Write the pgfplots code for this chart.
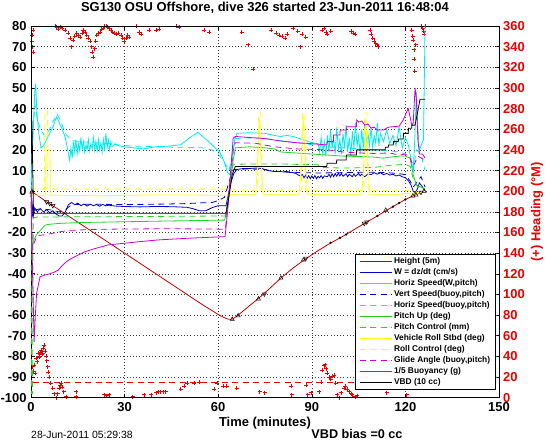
\documentclass[border=0pt]{standalone}
\usepackage{pgfplots}
\pgfplotsset{compat=1.18}
\usepackage{fontspec}
\setmainfont{Liberation Sans}
\definecolor{hred}{rgb}{0.78,0,0}
\definecolor{mblue}{rgb}{0,0,0.78}
\definecolor{mcyan}{rgb}{0,0.92,0.92}
\definecolor{mgreen}{rgb}{0.15,0.82,0.15}
\definecolor{myellow}{rgb}{1,1,0.1}
\definecolor{mmag}{rgb}{0.8,0,0.8}
\definecolor{hdg}{rgb}{0.92,0,0}
\pgfplotsset{every axis plot/.append style={line width=0.8pt}}
\begin{document}
\begin{tikzpicture}
% ---------- right axis: heading ----------
\begin{axis}[
  at={(31bp,44.3bp)}, anchor=south west,
  scale only axis, width=468bp, height=371.7bp,
  xmin=0, xmax=150, ymin=0, ymax=360,
  axis x line=none, axis y line*=right,
  ytick={0,20,...,360},
  tick align=inside, major tick length=4bp,
  y axis line style={black, line width=0.6pt},
  ytick style={black, line width=0.6pt},
  /pgf/number format/assume math mode=true,
  yticklabel style={font=\fontsize{13}{13}\selectfont\bfseries, text=hdg, inner xsep=0pt, xshift=4bp},
  ylabel={(+) Heading (°M)},
  ylabel style={at={(axis description cs:1.0812,0.5)}, anchor=center, inner sep=0pt, font=\fontsize{13}{13}\selectfont\bfseries, text=hdg},
]
\addplot[only marks, mark=+, mark size=2bp, hdg, line width=0.6pt] coordinates {
(0.2,345)(0.4,351)(0.5,340)(0.6,335)(0.8,356)(7.8,360)(8.2,359)(8.8,357)(9.3,359)(10,358)(11,356)(12,353)(12.5,348)(13,340)(13.5,346)(14,350)(14.6,353)(15.2,351)(15.7,349)(16.3,353)(16.8,356)(17.3,354)(17.8,351)(18.4,348)(18.9,345)(19.4,340)(19.7,335)(20,330)(20.4,338)(20.7,345)(21,351)(21.5,353)(22.1,354)(22.6,357)(23.1,358)(23.6,360)(24.1,360)(24.6,359)(25.2,358)(25.7,356)(26.2,354)(26.8,353)(27.3,352)(28,353)(28.9,351)(29.4,348)(29.9,345)(30.4,348)(31,351)(31.5,349)(33.7,360)(34.7,354)(35.2,352)(37.9,356)(40,356)(41,357)(46.5,360)(47.5,359)(55.5,356)(57.1,354)(67.5,354)(69.7,342)(71.3,318)(77,356)(78.5,353)(79.5,351)(80.5,350)(81.5,348)(82,352)(84,358)(85.5,355)(86.2,340)(87,352)(88,349)(93.4,356)(94,358)(94.5,354)(95,352)(96,355)(102.6,355)(103.2,353)(104,352)(108.6,356)(109,352)(109.5,348)(110,345)(110.5,343)(111,342)(111.3,340)(122,356)(122.3,350)(122.5,346)(122.7,337)(122.9,328)(123,316)(123.3,342)(125,360)(125.5,358)(125.8,355)(126,352)(126.3,360)
(0.5,30)(0.8,26)(1.1,31.6)(1.3,23.6)(1.6,38)(1.9,35)(2.2,43)(2.5,39)(2.7,40)(3,44)(3.2,46)(3.5,42)(3.7,43)(4,48)(4.2,51)(4.5,45)(4.8,40)(5,36)(5.3,30)(5.5,25)(5.8,20)(6.3,14)(6.9,9)(7.4,4)(8,0)(8.5,4)(9,9)(9.3,12)(9.6,14)(10,10)(10.5,6)(11.2,1)(14.4,6)(14.5,1)(23.5,3)(24.2,2)(25,3)(32.6,1)(36.3,3)(38.4,3)(40,5)(40.8,6)(41.6,6)(42.4,6)(43.2,6)(48,8)(49,11)(50.1,14)(52.2,14)(53.8,15)(58.6,8)(59.7,14)(61.6,11)(62.7,11)(65.9,9)(73.3,6)(74.9,5)(83.4,11)(83.5,3)(88.1,12)(88.7,3)(89.7,5)(92.4,6)(93,15)(93.4,27)(93.9,31)(94.3,32)(94.7,28)(95,24)(95.5,20)(96,18)(96.5,21)(97.1,22)(97.6,14)(98.2,3)(98.7,0)(99.5,5)(100.3,9)(100.8,11)(101.4,8)(101.9,6)(102.5,4)(103,3)(104,1)(104.5,2)(114,5)(120.4,3)
};
\addplot[hdg, dash pattern=on 6bp off 4.5bp] coordinates {(0.6,14.6)(126.3,14.6)};
\end{axis}
% ---------- left axis ----------
\begin{axis}[
  at={(31bp,44.3bp)}, anchor=south west,
  scale only axis, width=468bp, height=371.7bp,
  xmin=0, xmax=150, ymin=-100, ymax=80,
  xtick={0,30,...,150}, ytick={-100,-90,...,80},
  xtick pos=both, ytick pos=left,
  tick align=inside, major tick length=4bp,
  axis line style={black, line width=0.6pt},
  tick style={black, line width=0.6pt},
  grid=major,
  major grid style={black!75, dash pattern=on 0.6pt off 2.6pt, line width=0.5pt},
  /pgf/number format/assume math mode=true,
  tick label style={font=\fontsize{13}{13}\selectfont\bfseries},
  yticklabel style={inner xsep=0pt, xshift=-4.3bp},
  xticklabel style={yshift=-1bp},
  title={SG130 OSU Offshore, dive 326 started 23-Jun-2011 16:48:04},
  title style={at={(axis description cs:0.5,1)}, anchor=base, yshift=8.5bp, inner sep=0pt, font=\fontsize{13}{13}\selectfont\bfseries},
  xlabel={Time (minutes)},
  xlabel style={at={(axis description cs:0.5,0)}, anchor=base, yshift=-29.3bp, inner sep=0pt, font=\fontsize{13}{13}\selectfont\bfseries},
  legend cell align=left,
  legend image code/.code={\draw[#1] (0bp,0bp) -- (32bp,0bp);},
  legend style={at={(0.9936,0.3866)}, anchor=north east, draw=black, line width=0.8pt, fill=white,
     font=\fontsize{8.4}{9}\selectfont\bfseries, row sep=0.9bp, inner xsep=3.5bp, inner ysep=2bp,
     nodes={inner ysep=0.9bp, text height=6.4bp, text depth=1.9bp}},
]
% Height
\addplot[hred] coordinates {
(0,0)(1,-1)(3,-3)(5,-5.2)(8,-8)(12,-12)(16,-16)(20,-20)(25,-25)(30,-30)(35,-35)(40,-40)(45,-45)(50,-50)(55,-55)(58,-57.8)(60,-59.7)(62,-61.3)(63.3,-62)(64.5,-62)(66,-60.5)(68,-58)(70,-55.5)(73,-51.8)(76,-47.8)(80,-42.2)(84,-37.2)(88,-32.8)(92,-28.8)(95,-26)(100,-21.8)(104,-18.2)(107.5,-15)(111,-12)(114,-9.2)(117,-6.6)(120,-4)(122.4,-2.3)(124,-1.3)(126,0)
};
\addlegendentry{Height (5m)}
% W
\addplot[mblue] coordinates {
(0,0)(0.3,-5)(0.7,-12.5)(1.2,-8)(2,-10)(3,-8.5)(4,-10)(5,-9)(6,-10.5)(7,-9.5)(8,-11)(9,-12)(10,-12)(11,-10)(12,-6.5)(13,-5.5)(14,-6.5)(15,-5.8)(16,-7)(17,-6.2)(18,-7.2)(19,-6.3)(20,-7)(21,-6.5)(22,-7.3)(23,-6.4)(24,-7.1)(25,-6.8)(27,-7.2)(30,-7.4)(35,-7.6)(40,-7.4)(45,-7.5)(50,-7.8)(52,-8.5)(54,-9.5)(56,-9.5)(58,-8)(60,-7)(62.5,-7)(63.2,-2)(64,4)(65,8.5)(66,10.5)(68,11)(70,11)(72,11.2)(74,11)(76,10)(78,9.5)(80,9.5)(82,9.2)(84,9)(85,8.5)(86,7.5)(87,8)(87.5,6.5)(88,7.8)(88.5,6.2)(89,7.5)(89.5,6)(90,7.4)(90.5,6.2)(91,7.6)(91.5,6)(92,7.2)(92.5,6.4)(93,7.6)(93.5,6.2)(94,7.4)(95,7)(95.5,8.2)(96,6.8)(96.5,8.4)(97,7)(97.5,8.6)(98,7.2)(98.5,8.8)(99,7.4)(99.5,8.6)(100,7.2)(101,8.4)(101.5,7)(102,8.2)(103,7)(103.5,8.4)(104,7.2)(105,8.6)(105.5,7.4)(106,8.2)(107,7)(108,8.4)(109,8)(110,9)(111,8.2)(112,9)(113,8)(114,8.6)(115,7.8)(116,8.2)(117,7.4)(118,7.8)(119,7)(120,6.5)(121,5)(121.8,3)(122.5,0)(123,-1)(123.8,1)(124.5,4)(125.5,2)(126.3,0)
};
\addlegendentry{W = dz/dt (cm/s)}
% Horiz speed W,pitch
\addplot[mcyan] coordinates {
(0,0)(0.6,25)(1.2,48)(1.5,52)(1.9,38)(2.5,28)(3.2,21)(4,22)(5,25)(6,28)(7,31)(8.2,36)(9,33.5)(10,30)(11,26)(12,18)(12.4,15)(12.8,21)(13.2,16)(13.6,24)(14,19)(14.4,25)(14.8,18)(15.2,23)(15.6,19.5)(16,26)(16.4,20)(16.8,24)(17.2,19)(17.6,22.5)(18,20)(18.4,25)(18.8,19.5)(19.2,23)(19.6,20.5)(20,26)(20.4,20)(20.8,24)(21.2,19.5)(21.6,25)(22,20)(22.4,23.5)(22.8,19)(23.2,25)(23.6,20.5)(24,28)(24.4,21)(24.8,25)(25.2,20)(25.6,24)(26,21.5)(27,23)(28,22)(30,21.5)(33,21)(36,20.5)(40,21.5)(44,21.8)(48,22.5)(51,26)(53.5,28.5)(55,26.5)(57,24)(59,21)(60.5,19)(62,14)(63,9)(63.8,8)(64.5,15)(65.3,25)(66,28)(70,28.3)(75,28)(78,27)(80,26.5)(82,27)(84,26.5)(86,25.5)(88,24.5)(90,23.5)(92,23)(92.5,19)(93,26)(93.5,18)(94,24)(94.5,17)(95,27)(95.5,19)(96,30)(96.5,21)(97,26)(97.5,18)(98,31)(98.5,20)(99,25)(99.5,18)(100,28)(100.5,21)(101,32)(101.5,19)(102,26)(102.5,17)(103,29)(103.5,21)(104,33)(104.5,22)(105,27)(105.5,18)(106,30)(106.5,21)(107,34)(107.5,24)(108,28)(108.5,22)(109,31)(109.5,21)(110,27)(110.5,23)(111,33)(111.5,22)(112,28)(113,24)(114,30)(115,23)(116,27)(117,22)(118,31)(119,21)(120,26)(121,22)(122,14)(122.5,10)(123,25)(123.5,48)(124,30)(124.5,20)(125,22)(125.8,25)(126.3,80)
};
\addlegendentry{Horiz Speed(W,pitch)}
% Vert speed buoy
\addplot[mblue, dash pattern=on 6bp off 4.5bp] coordinates {
(0,0)(0.4,-12)(0.8,-10)(1.5,-9)(3,-8.5)(6,-9)(9,-10)(11,-9)(13,-6.5)(20,-6.3)(30,-6.5)(40,-6.3)(50,-6)(55,-5.6)(58,-5.5)(60,-4.5)(62,-3)(63,2)(64,7)(65,10.5)(70,10.8)(75,10.5)(78,9.5)(82,9.5)(86,9)(92,8.8)(100,9)(108,9.2)(114,9)(118,8.5)(120,8)(121.5,5)(122.5,2)(123.5,4)(125,7)(126.3,2)
};
\addlegendentry{Vert Speed(buoy,pitch)}
% Horiz speed buoy
\addplot[mcyan, dash pattern=on 6bp off 4.5bp] coordinates {
(0,0)(0.6,30)(1.3,42)(2,35)(3,30)(4.5,26.5)(6,30)(7.5,35)(8.4,37.5)(9.5,34)(11,28)(13,24.5)(16,24)(20,23.5)(25,23)(30,22)(40,21.5)(50,21.2)(55,21)(58,20)(60,18)(62,14)(63.5,10)(64.5,18)(65.5,25.5)(70,25.8)(75,25.5)(80,24.5)(85,23.5)(90,22.5)(95,21.5)(100,21)(105,20.5)(110,20)(115,19.5)(118,19)(120,18)(121.5,16)(122.5,10)(123.5,20)(125,18)(126.3,10)
};
\addlegendentry{Horiz Speed(buoy,pitch)}
% Pitch up
\addplot[mgreen] coordinates {
(0,0)(0.3,-28)(0.8,-24)(1.8,-21)(3,-19)(4.5,-16.4)(6,-16)(9,-15.6)(15,-15.2)(30,-14.8)(45,-14.4)(62,-14)(62.8,-10)(63.8,2)(64.8,15)(65.5,21)(70,21.5)(75,21)(78,20.5)(80,19)(85,18.5)(90,18)(95,17.5)(100,17)(105,16.8)(110,16.5)(113,16)(115,16.5)(118,17)(120,17)(121.5,16)(122.5,8)(123.5,3)(125,2)(126.3,1)
};
\addlegendentry{Pitch Up (deg)}
% Pitch control
\addplot[mgreen, dash pattern=on 6bp off 4.5bp] coordinates {
(0,0)(0.2,-98)(0.5,-98)(0.7,-13)(2,-12.5)(30,-12.3)(62.3,-12)(63.5,0)(64.8,13)(70,13.2)(80,13.2)(85,13)(92,12.8)(93,11.5)(100,11.2)(110,11.5)(115,12.5)(120,13)(121.5,12)(122.5,6)(124,2)(126.3,1)
};
\addlegendentry{Pitch Control (mm)}
% Vehicle roll
\addplot[myellow] coordinates {
(0,0)(0.5,-2)(4.7,-2)(4.8,20)(6.1,20)(6.2,-2)(10,-2)(20,-2.2)(30,-2)(40,-1.8)(50,-1.8)(60,-2)(62.5,-2)(65,-1.5)(72,-1.5)(72.6,12)(73.2,35)(73.8,12)(74.4,-1.5)(86,-1.5)(86.6,12)(87.3,36)(88,12)(88.6,-1.5)(106,-1.5)(106.6,12)(107.3,35)(108,12)(108.6,-1.5)(118,-1.5)(121,-1)(122.5,-2)(124,-1)(126.3,0)
};
\addlegendentry{Vehicle Roll Stbd (deg)}
% Roll control
\addplot[myellow, dash pattern=on 6bp off 4.5bp] coordinates {
(0,0)(0.5,1)(4.3,1)(4.4,39)(5.3,39)(5.4,1)(30,1)(62.5,1)(65,0.5)(72.5,0.5)(72.9,38)(73.6,38)(74,0.5)(86.6,0.5)(87,38)(87.7,38)(88.1,0.5)(106.6,0.5)(107,38)(107.7,38)(108.1,0.5)(121,0.5)(123,-1)(126.3,0)
};
\addlegendentry{Roll Control (deg)}
% Glide angle
\addplot[mmag, dash pattern=on 6bp off 4.5bp] coordinates {
(0,0)(0.4,-28)(1,-25)(2,-21.5)(5,-21)(8,-20)(12,-19)(20,-18.5)(30,-18.3)(45,-18.2)(58,-18.3)(62.3,-18.5)(63.5,0)(64.8,20)(65.5,23.5)(72,23.2)(78,21.5)(85,20.5)(95,20)(100,19)(105,18.5)(110,18.3)(115,18.5)(118,17.5)(120,18)(121.5,16)(122.5,12)(124,17)(126.3,15)
};
\addlegendentry{Glide Angle (buoy,pitch)}
% Buoyancy
\addplot[mmag] coordinates {
(0,0)(0.5,-40)(1,-73)(1.4,-60)(1.8,-49.4)(2.9,-41.4)(4.5,-40.6)(6,-40)(7,-39.5)(8.8,-38.2)(10,-36)(11.5,-34)(13,-32.5)(15,-31)(17.3,-29.3)(20,-28)(24.8,-26)(30,-25.2)(35,-24.4)(40.8,-23.6)(50,-22.8)(62.2,-22)(63,-10)(64,10)(64.8,25.6)(65.5,26.5)(70,26)(75,25.5)(80,24.3)(85,23.5)(90,23)(94.8,22.4)(95,24)(96.9,24)(97,27.2)(99,27.2)(99.1,29.6)(101.1,29.6)(101.2,31.2)(104.3,31.2)(104.4,34.5)(105,33.5)(106,34)(107,32)(108,32.5)(109,30.5)(110,31)(111,29.6)(113,29.6)(114.5,31)(118,31.5)(119.3,34.5)(120.9,40)(121.5,36)(122,32)(122.5,33)(123.1,50)(123.5,45)(124,25)(124.5,18)(125.5,18)(126.3,16)
};
\addlegendentry{1/5 Buoyancy (g)}
% VBD
\addplot[black] coordinates {
(0,34)(0.3,34)(0.8,-10.7)(30,-10.7)(62.5,-10.7)(63.5,-2)(64.5,8)(65.5,12)(94.8,12)(94.9,13.5)(97.9,13.5)(98,15.1)(101,15.1)(101.1,17.5)(104.3,17.5)(104.4,20)(113.5,20)(113.6,21.3)(114.5,21.3)(114.6,22.4)(116.1,22.4)(116.2,24)(117.7,24)(117.8,25.3)(119.3,25.3)(119.4,28)(120.9,28)(121,30.5)(122,30.5)(122.1,32)(123.1,32)(124.7,44.5)(126.3,44.5)
};
\addlegendentry{VBD (10 cc)}
% height markers
\addplot[forget plot, only marks, mark=triangle, mark size=2.4bp, black, line width=0.5pt] coordinates {
(0.3,-0.3)(64.5,-62)(66.4,-60.3)(72.9,-52.2)(80.1,-42)(87.3,-33.3)(113.7,-9.2)(122.4,-2.3)(123.4,-1.8)(126,0)
};
\addplot[forget plot, only marks, mark=triangle, mark size=2.4bp, mark options={rotate=180}, black, line width=0.5pt] coordinates {
(5,-5.2)(6,-6)(7,-7)(74.8,-49.8)(88.1,-32.5)(106.8,-15.6)(107.6,-14.9)(125,-0.6)
};
\addplot[forget plot, only marks, mark=*, mark size=0.7bp, black] coordinates {
(96,-25)(99,-22.6)(101,-21)(111,-12)(116,-7.5)(118,-5.7)(120,-4)
};
\end{axis}
\node[anchor=base west, inner sep=0pt, font=\fontsize{10.5}{11}\selectfont] at (31bp,3.5bp) {28-Jun-2011 05:29:38};
\node[anchor=base, inner sep=0pt, font=\fontsize{12.7}{13}\selectfont\bfseries] at (357bp,3.5bp) {VBD bias =0 cc};
\path (0,0) rectangle (546bp,442bp);
\end{tikzpicture}
\end{document}
